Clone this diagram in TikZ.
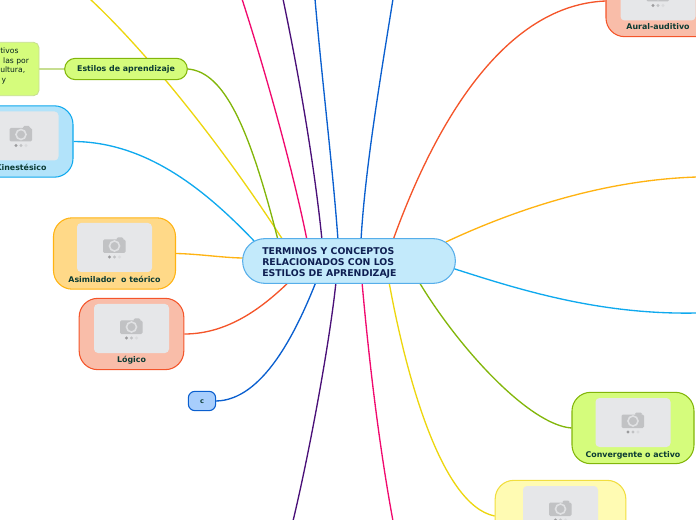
\documentclass[tikz,border=0pt]{standalone}
\usepackage{fontspec}
\usetikzlibrary{calc,backgrounds}
\setmainfont{DejaVu Sans}
\definecolor{mmyellow}{HTML}{EDD60F}
\definecolor{mmlime}{HTML}{82B60A}
\definecolor{mmlimefill}{HTML}{D5FC7C}
\definecolor{mmpink}{HTML}{F00A6E}
\definecolor{mmpurple}{HTML}{4A1078}
\definecolor{mmblue}{HTML}{0A5FCF}
\definecolor{mmbluefill}{HTML}{A8CEFC}
\definecolor{mmred}{HTML}{F4552A}
\definecolor{mmredfill}{HTML}{F9BDA9}
\definecolor{mmorange}{HTML}{FFB312}
\definecolor{mmsky}{HTML}{0FA9EE}
\definecolor{mmink}{HTML}{0B3B33}
\definecolor{mmnavy}{HTML}{0E1F52}
\definecolor{mmphoto}{HTML}{E6E7E9}
\definecolor{mmcam}{HTML}{C1C2C4}

\begin{document}
\begin{tikzpicture}[
  x=0.75pt, y=-0.75pt,
  card/.style={draw=#1, line width=0.8pt, rounded corners=14pt,
               minimum width=91.5pt, minimum height=53.5pt},
  cardtext/.style={font=\bfseries\fontsize{5.9pt}{7pt}\selectfont, text=mmink, inner sep=0pt},
  link/.style={line width=1pt},
  photo/.pic={
    \fill[mmphoto, rounded corners=3pt] (-37.5,-24.5) rectangle (37.5,24.5);
    \fill[mmcam, rounded corners=1pt] (-11.5,-8) rectangle (11,5.5);
    \fill[mmcam, rounded corners=1pt] (2,-10) rectangle (9,-7);
    \draw[mmphoto!85!mmcam, line width=1.2pt] (0,-1.5) circle (5);
    \fill[mmcam!80!black] (-5,9.5) circle (1.6);
    \fill[mmcam] (0,9.5) circle (1.6);
    \fill[mmcam!35!mmphoto] (5,9.5) circle (1.6);
  },
]
  \clip (0,0) rectangle (696,520);

  %% Free ends at the page edge
  \coordinate (topa) at (90,-1);
  \coordinate (topb) at (242,-1);
  \coordinate (topc) at (283,-1);
  \coordinate (topd) at (315,-1);
  \coordinate (tope) at (393,-1);
  \coordinate (righta) at (697,177);
  \coordinate (rightb) at (697,313);
  \coordinate (bota) at (393,521);
  \coordinate (botb) at (293,521);

  %% Nodes, centre first
  \node[draw=mmsky!60!mmblue!70, fill=mmsky!25, line width=0.8pt, rounded corners=16.5pt,
        minimum width=159.5pt, minimum height=33.5pt] (hub) at (349,261) {};
  \node[anchor=west, align=left, inner sep=0pt, text=mmnavy,
        font=\bfseries\fontsize{7pt}{8.25pt}\selectfont] (hubtext) at (262,262.5)
    {TERMINOS Y CONCEPTOS\\RELACIONADOS CON LOS\\ESTILOS DE APRENDIZAJE};

  \node[draw=mmlime, fill=mmlimefill, line width=0.8pt, rounded corners=8pt,
        minimum width=92pt, minimum height=16pt] (estilos) at (126,69) {};
  \node[cardtext] (estilostext) at (126,69.5) {Estilos de aprendizaje};
  \node[draw=mmlime!45, fill=mmlimefill, line width=0.6pt, rounded corners=4pt,
        minimum width=60pt, minimum height=40pt] (rasgos) at (-1,69) {};
  \node[anchor=west, align=left, inner sep=0pt, text=mmink!60!black,
        font=\fontsize{5.7pt}{7.2pt}\selectfont] (rasgostext) at (0,66)
    {tivos\\\hspace*{2.2pt}las por\\ultura,\\\hspace*{1pt}y};

  \node[card=mmsky, fill=mmsky!32, minimum width=78pt] (kines) at (21,141.5) {};
  \node[card=mmorange, fill=mmorange!50] (asim) at (114.5,253.5) {};
  \node[card=mmred, fill=mmredfill, minimum width=78.5pt] (logico) at (131.5,334) {};
  \node[card=mmlime, fill=mmlimefill] (conv) at (633,428) {};
  \node[card=mmyellow!80, fill=yellow!30!white, minimum width=98pt] (amar) at (560.5,516) {};
  \node[card=mmred, fill=mmredfill] (aural) at (667,1) {};
  \node[draw=mmblue, fill=mmbluefill, line width=0.8pt, rounded corners=5pt,
        minimum width=20.5pt, minimum height=14.5pt] (cnode) at (202,401) {};
  \node[cardtext, font=\bfseries\fontsize{5pt}{6pt}\selectfont] (ctext) at (202,401.5) {c};

  %% Pictures and labels of the cards
  \pic at (21,136) {photo};
  \pic at (114.5,247.5) {photo};
  \pic at (131.5,328.5) {photo};
  \pic at (633,422.5) {photo};
  \pic at (560.5,510.5) {photo};
  \pic at (658,-4) {photo};
  \node[cardtext] (kinestext) at (21,167) {Kinestésico};
  \node[cardtext] (asimtext) at (114.5,279.5) {Asimilador\ \ o teórico};
  \node[cardtext] (logicotext) at (131.5,360) {Lógico};
  \node[cardtext] (convtext) at (633,455) {Convergente o activo};
  \node[cardtext] (auraltext) at (658,27) {Aural-auditivo};

  %% Connectors, behind the nodes
  \begin{pgfonlayer}{background}
  \draw[link, mmlime!45] (estilos.west) -- (rasgos.east);
  \draw[link, mmyellow] (topa) .. controls (150,55) and (225,150) .. ($(hub.north)+(-66,2)$);
  \draw[link, mmlime] (estilos.east) .. controls (225,72) and (250,130) .. ($(hub.north)+(-71,2)$);
  \draw[link, mmpink] (topb) .. controls (265,70) and (293,170) .. ($(hub.north)+(-42,2)$);
  \draw[link, mmpurple] (topc) .. controls (300,80) and (315,170) .. ($(hub.north)+(-27,2)$);
  \draw[link, mmblue] (topd) .. controls (322,80) and (333,170) .. ($(hub.north)+(-11,2)$);
  \draw[link, mmblue] (tope) .. controls (380,80) and (365,170) .. ($(hub.north)+(12,2)$);
  \draw[link, mmred] (aural.west) .. controls (510,5) and (440,110) .. ($(hub.north)+(44,2)$);
  \draw[link, mmorange] (righta) .. controls (600,180) and (510,212) .. ($(hub.east)+(-10,-19)$);
  \draw[link, mmsky] (rightb) .. controls (600,315) and (520,290) .. ($(hub.east)+(-4,7)$);
  \draw[link, mmlime] (conv.west) .. controls (530,425) and (460,350) .. ($(hub.south)+(70,-2)$);
  \draw[link, mmyellow] (amar.west) .. controls (440,505) and (405,370) .. ($(hub.south)+(40,-2)$);
  \draw[link, mmpink] (bota) .. controls (378,440) and (368,350) .. ($(hub.south)+(13,-2)$);
  \draw[link, mmpurple] (botb) .. controls (310,450) and (330,340) .. ($(hub.south)+(-13,-2)$);
  \draw[link, mmblue] (cnode.east) .. controls (262,400) and (295,335) .. ($(hub.south)+(-33,-2)$);
  \draw[link, mmred] (logico.east) .. controls (230,334) and (265,305) .. ($(hub.south)+(-60,-2)$);
  \draw[link, mmorange] (asim.east) .. controls (200,254) and (225,258) .. ($(hub.west)+(2,-3)$);
  \draw[link, mmsky] (kines.east) .. controls (150,142) and (210,195) .. ($(hub.west)+(12,-20)$);
  \end{pgfonlayer}
\end{tikzpicture}
\end{document}
